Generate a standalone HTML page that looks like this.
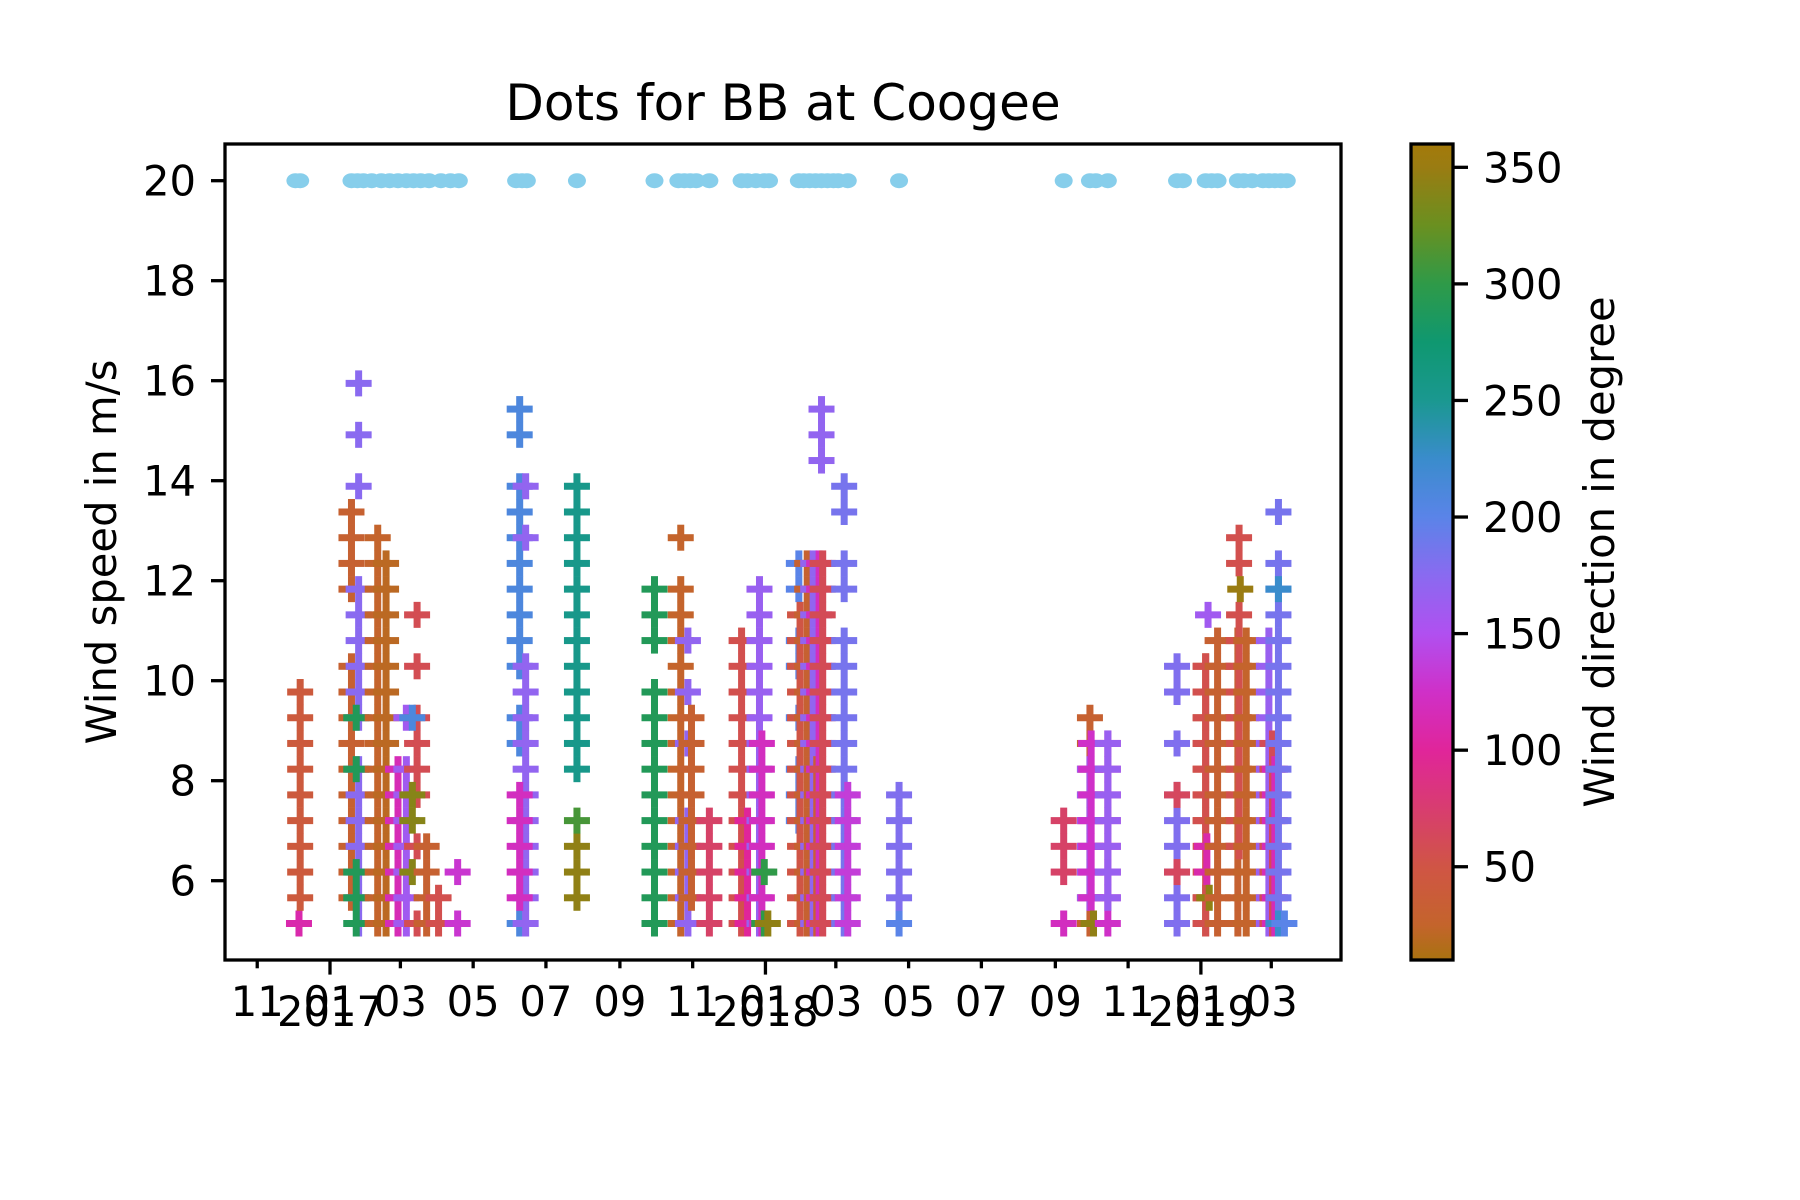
<!DOCTYPE html>
<html><head><meta charset="utf-8"><style>
html,body{margin:0;padding:0;background:#fff;}
svg{display:block;font-family:"DejaVu Sans","Liberation Sans",sans-serif;}
</style></head><body>
<svg id="chart" width="1800" height="1200" viewBox="0 0 1800 1200" xmlns="http://www.w3.org/2000/svg">
<defs>
<linearGradient id="cbgrad" x1="0" y1="1" x2="0" y2="0">
<stop offset="0" stop-color="#a87210"/><stop offset="0.043" stop-color="#c4642c"/><stop offset="0.114" stop-color="#d05545"/>
<stop offset="0.257" stop-color="#e0259a"/><stop offset="0.329" stop-color="#cf30c8"/><stop offset="0.4" stop-color="#b050f0"/>
<stop offset="0.471" stop-color="#8a6af0"/><stop offset="0.543" stop-color="#5a84e8"/><stop offset="0.614" stop-color="#3a8ccc"/>
<stop offset="0.686" stop-color="#1a9890"/><stop offset="0.757" stop-color="#0f9870"/><stop offset="0.829" stop-color="#2f9a48"/>
<stop offset="0.9" stop-color="#6a9020"/><stop offset="0.971" stop-color="#9a7c12"/><stop offset="1" stop-color="#a47a0a"/>
</linearGradient>
</defs>
<text x="783" y="120" font-size="50" text-anchor="middle">Dots for BB at Coogee</text>
<g id="marks"></g>
<rect x="225" y="144" width="1116" height="816" fill="none" stroke="#000" stroke-width="3.3"/>
<g id="yaxis"></g>
<g id="xaxis"></g>
<text x="0" y="0" font-size="41.7" text-anchor="middle" transform="translate(116,552) rotate(-90)">Wind speed in m/s</text>
<rect x="1411" y="144" width="42" height="816" fill="url(#cbgrad)" stroke="#000" stroke-width="3.3"/>
<g id="cbaxis"></g>
<text x="0" y="0" font-size="41.7" text-anchor="middle" transform="translate(1614,552) rotate(-90)">Wind direction in degree</text>
</svg>
<script>
// ---- data (days since 2017-01-01, speeds in knots, direction in degrees) ----
const dotDays = [-29,-25,18,23,28,35,43,50,57,64,70,76,83,93,101,108,156,161,165,207,272,292,297,302,307,318,345,350,357,364,368,393,397,402,407,412,417,422,426,434,477,615,637,642,652,710,715,734,739,744,761,766,773,782,787,792,797,802];
const dotSpeed = 20;
const colDays = [-26,-25,18,24,22,40,47,57,64,73,69,69,81,91,107,159,164,159,207,207,207,272,294,300,303,318,345,350,360,362,364,367,393,394,400,405,408,410,413,412,431,434,477,477,615,615,637,637,638,640,652,652,710,710,734,734,735,736,737,744,761,762,763,768,787,790,792,795,795,800];
const colKnots = [
[10],[11,12,13,14,15,16,17,18,19],
[11,12,13,14,15,16,17,18,19,20,23,24,25,26],
[10,11,12,13,14,15,16,18,19,20,21,22,23,27,29,31],
[10,11,12,16,18],
[10,11,12,13,14,15,16,17,18,19,20,21,22,23,24,25],
[10,11,12,13,14,15,16,17,18,19,20,21,22,23,24],
[10,11,12,13,14,15,16],
[10,11,12,13,14,15,16,18],
[10,13,15,16,17,18,20,22],
[18],[12,14,15],
[10,11,12,13],[10,11],[10,12],
[10,17,18,20,21,22,23,24,25,26,27,29,30],
[10,11,12,13,14,15,16,17,18,19,20,25,27],
[11,12,13,14,15],
[16,17,18,19,20,21,22,23,24,25,26,27],[11,12,13],[14],
[10,11,12,13,14,15,16,17,18,19,21,22,23],
[10,11,12,13,14,15,16,17,18,19,20,21,22,23,25],
[10,11,12,13,14,17,19,21],
[11,12,13,14,15,16,17,18],
[10,11,12,13,14],
[10,11,12,13,14,15,16,17,18,19,20,21],
[10,11,12,13,14],
[10,11,12,13,14,15,16,17,18,19,20,21,22,23],
[10,11,12,13,14,15,16,17],
[10,12],[10],
[14,15,16,18,20,21,23,24],
[10,11,12,13,14,15,16,17,18,19,20,21,22],
[10,11,12,13,14,15,16,17,18,19,20,21,22,23,24],
[10,11,12,13,14,15,16,17,18,19,20,21,22,23,24],
[10,11,12,13,14,15,16],
[10,11,12,13,14,15,16,17,18,19,20,21,22,23,24],
[10,11,12,13,14,15,16,17,18,19,20,21,22,23,24],
[28,29,30],
[10,11,12,13,14,15,16,17,18,19,20,21,23,24,26,27],
[10,11,12,13,14,15],
[10],[11,12,13,14,15],
[10],[12,13,14],
[10,11,12,13,14,15,16,17,18],[11,12,13,14,15,16],[11,12,13,14,15,16,17],[10],
[10,11,12,13,14,15,16,17],[11,12,13,14,15,16,17],
[10,11,12,13,14,15,17,19,20],[12,15],
[10,11,14,15,16,17,18,19,20],[10,11,12,13,14,15,16,17,18,19,20],[12,13],[22],[11],
[10,11,12,13,14,15,16,17,18,19,20,21],
[10,11,12,13,14,15,16,17,18,19,20,21],[13,14,15,16,17,18,19,20,21,22,24,25],[23],
[10,11,12,13,14,15,16,17,18,19,20,21],
[10,11,12,13,14,15,16,17,18,19,20,21],[10,11,12,13,14,15,16,17],[10,11,12,13,14,15,16],
[10,11,12,13,14,15,16,17,18,19,20,21,22,23,24,26],[10,23],[10]
];
const colDirs = [110,42,30,175,290,25,20,115,160,58,210,340,30,55,130,210,170,120,255,345,310,290,25,170,30,70,55,100,165,120,300,345,200,50,30,170,35,120,60,170,185,135,200,180,120,70,30,160,125,345,125,165,180,65,25,55,110,160,345,30,30,55,350,25,165,60,115,185,225,200];
const yTicks = [6,8,10,12,14,16,18,20];
const cbTicks = [50,100,150,200,250,300,350];

// ---- axes ----
const NS='http://www.w3.org/2000/svg';
const X0=330, PXDAY=1.193;
function xScale(day){return X0+day*PXDAY;}
function yScale(v){return 180.7+(20-v)*50;}
function knotsToMs(k){return k*0.5144;}
function cbScale(d){return 960-(d-10)/350*816;}
const stops=[[10,[168,114,16]],[25,[196,100,44]],[50,[208,85,69]],[100,[224,37,154]],[125,[207,48,200]],[150,[176,80,240]],[175,[138,106,240]],[200,[90,132,232]],[225,[58,140,204]],[250,[26,152,144]],[275,[15,152,112]],[300,[47,154,72]],[325,[106,144,32]],[350,[154,124,18]],[360,[164,122,10]]];
function dirColor(d){
  for(let i=0;i<stops.length-1;i++){const a=stops[i],b=stops[i+1];
    if(d<=b[0]){const t=Math.max(0,(d-a[0])/(b[0]-a[0]));const c=a[1].map((v,j)=>Math.round(v+(b[1][j]-v)*t));return 'rgb('+c.join(',')+')';}}
  return 'rgb(164,122,10)';
}
function mk(tag,attrs,parent){const e=document.createElementNS(NS,tag);for(const k in attrs)e.setAttribute(k,attrs[k]);parent.appendChild(e);return e;}

const marks=document.getElementById('marks');
colDays.forEach((day,ci)=>{
  const col=dirColor(colDirs[ci]);
  colKnots[ci].forEach(k=>{
    const cx=xScale(day), cy=yScale(knotsToMs(k));
    const g=mk('g',{fill:col},marks);
    
    
    mk('rect',{x:cx-13,y:cy-3.5,width:26,height:7},g);
    mk('rect',{x:cx-3.5,y:cy-13,width:7,height:26},g);
  });
});
dotDays.forEach(day=>{
  const c=mk('ellipse',{cx:xScale(day),cy:yScale(dotSpeed),rx:9,ry:7.5,fill:'#87ceeb'},marks);
  
  
});

const ya=document.getElementById('yaxis');
yTicks.forEach(v=>{
  const y=yScale(v);
  mk('line',{x1:211,x2:225,y1:y,y2:y,stroke:'#000','stroke-width':3.3},ya);
  const t=mk('text',{x:196,y:y+15,'font-size':41.7,'text-anchor':'end'},ya);
  t.textContent=String(v);
  
  
});
const xa=document.getElementById('xaxis');
const base=Date.UTC(2017,0,1);
for(let y=2016;y<=2019;y++){for(let m=0;m<12;m+=2){
  const dt=Date.UTC(y,m,1);const day=(dt-base)/86400000;const x=xScale(day);
  if(x<226||x>1340)continue;
  const major=(m===0);
  mk('line',{x1:x,x2:x,y1:960,y2:960+(major?14.6:8.3),stroke:'#000','stroke-width':3.3},xa);
  const t=mk('text',{x:x,y:1016,'font-size':41.7,'text-anchor':'middle'},xa);
  t.textContent=String(m+1).padStart(2,'0');
  
  
  if(major){const t2=mk('text',{x:x,y:1026,'font-size':41.7,'text-anchor':'middle'},xa);
    t2.textContent=String(y);
    
    }
}}
const cb=document.getElementById('cbaxis');
cbTicks.forEach(v=>{
  const y=cbScale(v);
  mk('line',{x1:1453,x2:1468,y1:y,y2:y,stroke:'#000','stroke-width':3.3},cb);
  const t=mk('text',{x:1483,y:y+15,'font-size':41.7},cb);
  t.textContent=String(v);
  
  
});
</script>
</body></html>
